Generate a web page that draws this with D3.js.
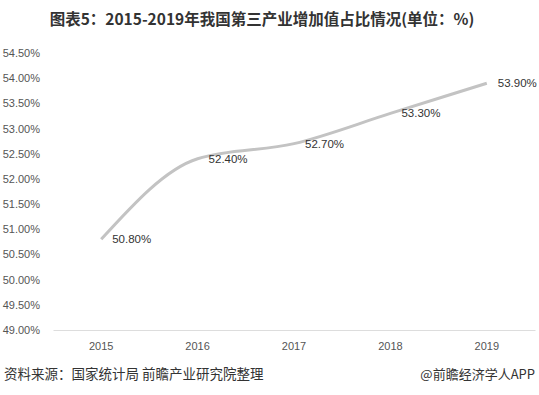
<!DOCTYPE html>
<html><head><meta charset="utf-8">
<script src="https://cdn.jsdelivr.net/npm/d3@7/dist/d3.min.js"></script>
<style>body{margin:0;background:#fff;}svg{display:block;font-family:"Microsoft YaHei","Noto Sans CJK SC",sans-serif;}</style>
</head><body>
<script>
const title = "图表5：2015-2019年我国第三产业增加值占比情况(单位：%)";
const years = ["2015","2016","2017","2018","2019"];
const values = [50.8, 52.4, 52.7, 53.3, 53.9];
const yTicks = [49,49.5,50,50.5,51,51.5,52,52.5,53,53.5,54,54.5];
const source = "资料来源：国家统计局 前瞻产业研究院整理";
const brand = "@前瞻经济学人APP";

const W=539,H=395;
const svg=d3.select("body").append("svg").attr("width",W).attr("height",H);
const m={l:53,r:535,t:53,b:330};
const x=d3.scaleBand().domain(years).range([m.l,m.r]);
const y=d3.scaleLinear().domain([49,54.5]).range([m.b,m.t]);
const numFont="'Liberation Sans',Arial,sans-serif";

svg.append("text").attr("x",262).attr("y",25).attr("text-anchor","middle")
  .attr("font-size",15.5).attr("font-weight","bold").attr("fill","#333").text(title);

const ya=svg.append("g").attr("transform",`translate(${m.l-13},0)`)
  .call(d3.axisLeft(y).tickValues(yTicks).tickFormat(d=>d.toFixed(2)+"%").tickSize(0).tickPadding(0));
ya.select(".domain").remove();
ya.selectAll("text").attr("font-size",11).attr("fill","#555").attr("font-family",numFont);

const xa=svg.append("g").attr("transform",`translate(0,${m.b})`)
  .call(d3.axisBottom(x).tickSize(0).tickPadding(12));
xa.select(".domain").attr("stroke","#ddd");
xa.selectAll("text").attr("font-size",11).attr("fill","#555").attr("font-family",numFont);

const cx=d=>x(d)+x.bandwidth()/2;
const line=d3.line().x((d,i)=>cx(years[i])).y(d=>y(d)).curve(d3.curveMonotoneX);
svg.append("path").datum(values).attr("d",line).attr("fill","none")
  .attr("stroke","#c3c3c3").attr("stroke-width",3);

svg.selectAll(".lbl").data(values).enter().append("text")
  .attr("x",(d,i)=>cx(years[i])+11).attr("y",d=>y(d)+4)
  .attr("font-size",11.5).attr("fill","#333").attr("font-family",numFont)
  .text(d=>d.toFixed(2)+"%");

svg.append("text").attr("x",4).attr("y",379).attr("font-size",13.5).attr("fill","#333").text(source);
svg.append("text").attr("x",535).attr("y",379).attr("text-anchor","end").attr("font-size",13).attr("fill","#333").text(brand);
</script>
</body></html>
